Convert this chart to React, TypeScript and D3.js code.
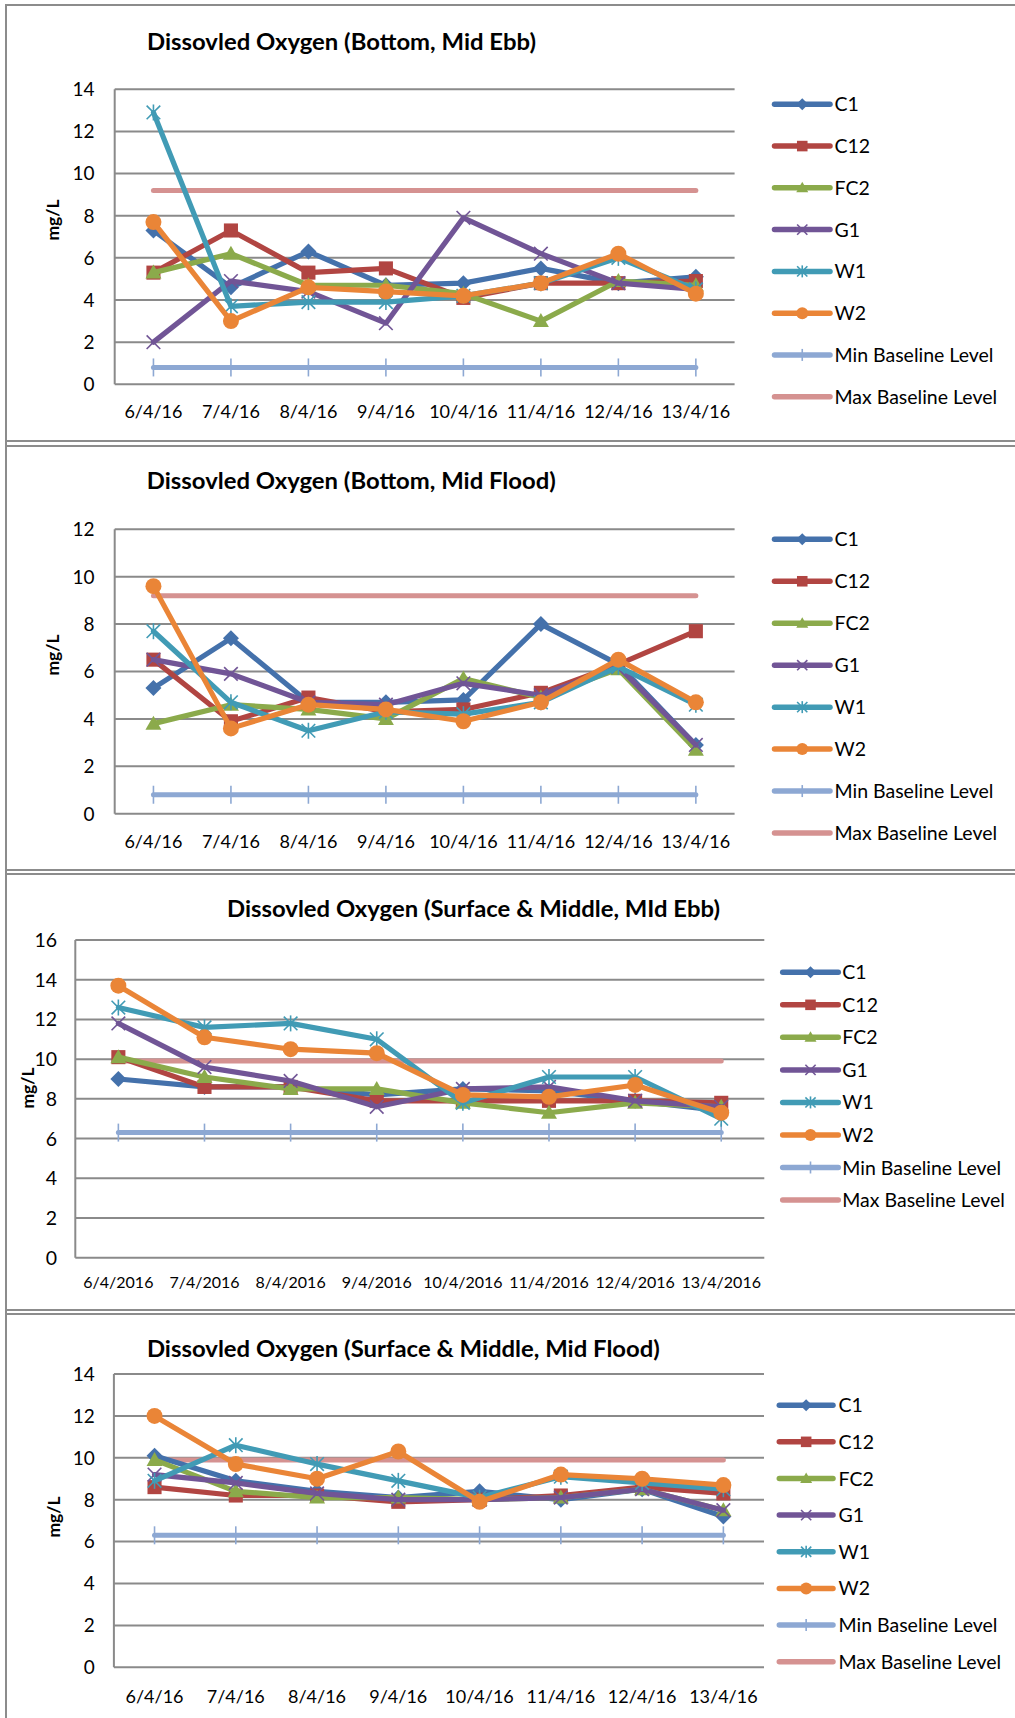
import React from "react";
import * as d3 from "d3";

// ---------- data ----------
const dates16 = ["6/4/16", "7/4/16", "8/4/16", "9/4/16", "10/4/16", "11/4/16", "12/4/16", "13/4/16"];
const dates2016 = ["6/4/2016", "7/4/2016", "8/4/2016", "9/4/2016", "10/4/2016", "11/4/2016", "12/4/2016", "13/4/2016"];
const seriesNames = ["C1", "C12", "FC2", "G1", "W1", "W2"];
const baselineNames = ["Min Baseline Level", "Max Baseline Level"];

// Chart 1: Bottom, Mid Ebb
const botEbbC1 = [7.3, 4.6, 6.3, 4.7, 4.8, 5.5, 4.8, 5.1];
const botEbbC12 = [5.3, 7.3, 5.3, 5.5, 4.1, 4.8, 4.8, 4.9];
const botEbbFC2 = [5.3, 6.2, 4.7, 4.7, 4.3, 3.0, 4.9, 4.7];
const botEbbG1 = [2.0, 4.9, 4.4, 2.9, 7.9, 6.2, 4.8, 4.5];
const botEbbW1 = [12.9, 3.7, 3.9, 3.9, 4.2, 4.8, 6.0, 4.5];
const botEbbW2 = [7.7, 3.0, 4.6, 4.4, 4.2, 4.8, 6.2, 4.3];
const botEbbBase = [0.8, 9.2];

// Chart 2: Bottom, Mid Flood
const botFloodC1 = [5.3, 7.4, 4.7, 4.7, 4.8, 8.0, 6.3, 2.9];
const botFloodC12 = [6.5, 3.9, 4.9, 4.3, 4.4, 5.1, 6.3, 7.7];
const botFloodFC2 = [3.8, 4.6, 4.4, 4.0, 5.7, 4.9, 6.1, 2.7];
const botFloodG1 = [6.5, 5.9, 4.7, 4.6, 5.5, 5.0, 6.2, 2.9];
const botFloodW1 = [7.7, 4.7, 3.5, 4.3, 4.2, 4.7, 6.2, 4.6];
const botFloodW2 = [9.6, 3.6, 4.6, 4.4, 3.9, 4.7, 6.5, 4.7];
const botFloodBase = [0.8, 9.2];

// Chart 3: Surface & Middle, Mid Ebb
const surEbbC1 = [9.0, 8.6, 8.6, 8.2, 8.5, 8.4, 7.9, 7.4];
const surEbbC12 = [10.1, 8.6, 8.6, 7.9, 7.9, 7.9, 7.9, 7.8];
const surEbbFC2 = [10.1, 9.1, 8.5, 8.5, 7.8, 7.3, 7.8, 7.6];
const surEbbG1 = [11.8, 9.6, 8.9, 7.6, 8.5, 8.6, 7.9, 7.6];
const surEbbW1 = [12.6, 11.6, 11.8, 11.0, 7.8, 9.1, 9.1, 7.0];
const surEbbW2 = [13.7, 11.1, 10.5, 10.3, 8.2, 8.1, 8.7, 7.3];
const surEbbBase = [6.3, 9.9];

// Chart 4: Surface & Middle, Mid Flood
const surFloodC1 = [10.1, 8.9, 8.4, 8.1, 8.4, 8.0, 8.5, 7.2];
const surFloodC12 = [8.6, 8.2, 8.2, 7.9, 8.0, 8.2, 8.6, 8.3];
const surFloodFC2 = [9.9, 8.4, 8.1, 8.1, 8.0, 8.1, 8.5, 7.5];
const surFloodG1 = [9.2, 8.8, 8.3, 8.0, 8.0, 8.1, 8.5, 7.5];
const surFloodW1 = [8.9, 10.6, 9.7, 8.9, 8.1, 9.1, 8.8, 8.5];
const surFloodW2 = [12.0, 9.7, 9.0, 10.3, 7.9, 9.2, 9.0, 8.7];
const surFloodBase = [6.3, 9.9];

const titles = [
  "Dissovled Oxygen (Bottom, Mid Ebb)",
  "Dissovled Oxygen (Bottom, Mid Flood)",
  "Dissovled Oxygen (Surface & Middle, MId Ebb)",
  "Dissovled Oxygen (Surface & Middle, Mid Flood)",
];

// ---------- styles ----------
const colors = ["#4471AB", "#B14542", "#8BAA4B", "#715596", "#419BB5", "#EA8537"];
const shapes = ["diamond", "square", "triangle", "x", "star", "circle"];
const minColor = "#8DA8D3";
const maxColor = "#D59291";
const gridColor = "#8A8A8A";
const FONT = "Lato, 'Open Sans', sans-serif";

type Layout = {
  titleX: number; titleY: number; titleW: number;
  x0: number; x1: number; yTop: number; yBot: number; yMax: number;
  tickRight: number; tickFont: number; xLabY: number; xFont: number;
  ylabX: number; ylabY: number;
  legLine0: number; legLine1: number; legText: number; legY0: number; legStep: number;
};

const layouts: Layout[] = [
  { titleX: 341.5, titleY: 50, titleW: 389, x0: 114.7, x1: 734.6, yTop: 89.3, yBot: 384.3, yMax: 14,
    tickRight: 94.5, tickFont: 19, xLabY: 418, xFont: 18, ylabX: 53, ylabY: 220,
    legLine0: 774.5, legLine1: 830, legText: 834.5, legY0: 104.3, legStep: 41.77 },
  { titleX: 351.3, titleY: 488.5, titleW: 409, x0: 114.7, x1: 734.6, yTop: 529.3, yBot: 813.7, yMax: 12,
    tickRight: 94.5, tickFont: 19, xLabY: 848, xFont: 18, ylabX: 53, ylabY: 655,
    legLine0: 774.5, legLine1: 830, legText: 834.5, legY0: 539.3, legStep: 41.96 },
  { titleX: 473.5, titleY: 916.7, titleW: 493, x0: 75.3, x1: 764.3, yTop: 940, yBot: 1257.7, yMax: 16,
    tickRight: 57, tickFont: 19.5, xLabY: 1288, xFont: 16, ylabX: 28, ylabY: 1088,
    legLine0: 782.7, legLine1: 838.3, legText: 842.3, legY0: 972.3, legStep: 32.53 },
  { titleX: 403.4, titleY: 1356.5, titleW: 513, x0: 113.9, x1: 764, yTop: 1374, yBot: 1667.3, yMax: 14,
    tickRight: 94.7, tickFont: 19, xLabY: 1702.5, xFont: 18, ylabX: 54, ylabY: 1517,
    legLine0: 779.3, legLine1: 833, legText: 838.5, legY0: 1405.2, legStep: 36.64 },
];

const chartSeries = [
  [botEbbC1, botEbbC12, botEbbFC2, botEbbG1, botEbbW1, botEbbW2],
  [botFloodC1, botFloodC12, botFloodFC2, botFloodG1, botFloodW1, botFloodW2],
  [surEbbC1, surEbbC12, surEbbFC2, surEbbG1, surEbbW1, surEbbW2],
  [surFloodC1, surFloodC12, surFloodFC2, surFloodG1, surFloodW1, surFloodW2],
];
const chartBases = [botEbbBase, botFloodBase, surEbbBase, surFloodBase];
const chartCats = [dates16, dates16, dates2016, dates16];

function Marker({ shape, x, y, color, s = 8 }: { shape: string; x: number; y: number; color: string; s?: number }) {
  const t = `translate(${x},${y})`;
  switch (shape) {
    case "diamond":
      return <path transform={t} d={`M0,${-s}L${s},0L0,${s}L${-s},0Z`} fill={color} />;
    case "square":
      return <rect transform={t} x={-s * 0.88} y={-s * 0.88} width={s * 1.76} height={s * 1.76} fill={color} />;
    case "triangle":
      return <path transform={t} d={`M0,${-s}L${s},${s * 0.75}L${-s},${s * 0.75}Z`} fill={color} />;
    case "x":
      return (
        <g transform={t} stroke={color} strokeWidth={1.6}>
          <line x1={-s * 0.85} y1={-s * 0.85} x2={s * 0.85} y2={s * 0.85} />
          <line x1={-s * 0.85} y1={s * 0.85} x2={s * 0.85} y2={-s * 0.85} />
        </g>
      );
    case "star":
      return (
        <g transform={t} stroke={color} strokeWidth={1.6}>
          <line x1={-s * 0.85} y1={-s * 0.85} x2={s * 0.85} y2={s * 0.85} />
          <line x1={-s * 0.85} y1={s * 0.85} x2={s * 0.85} y2={-s * 0.85} />
          <line x1={0} y1={-s} x2={0} y2={s} />
        </g>
      );
    case "circle":
      return <circle cx={x} cy={y} r={s} fill={color} />;
    case "min":
      return <line x1={x} x2={x} y1={y - s} y2={y + s} stroke={minColor} strokeWidth={1.6} />;
    default:
      return null;
  }
}

function Chart({ idx }: { idx: number }) {
  const L = layouts[idx];
  const cats = chartCats[idx];
  const series = chartSeries[idx];
  const [minV, maxV] = chartBases[idx];
  const xb = d3.scaleBand<string>().domain(cats).range([L.x0, L.x1]).padding(0);
  const xc = (c: string) => (xb(c) as number) + xb.bandwidth() / 2;
  const y = d3.scaleLinear().domain([0, L.yMax]).range([L.yBot, L.yTop]);
  const ticks = d3.range(0, L.yMax + 1, 2);
  const line = d3.line<number>().x((_, i) => xc(cats[i])).y((v) => y(v));
  const minArr = cats.map(() => minV);
  const maxArr = cats.map(() => maxV);

  return (
    <g>
      <text x={L.titleX} y={L.titleY} textAnchor="middle" fontFamily={FONT} fontWeight="bold" fontSize={22}
        textLength={L.titleW} lengthAdjust="spacingAndGlyphs" fill="#000">{titles[idx]}</text>
      {ticks.map((t) => (
        <g key={t}>
          <line x1={L.x0} x2={L.x1} y1={y(t)} y2={y(t)} stroke={gridColor} strokeWidth={2} />
          <text x={L.tickRight} y={y(t)} dy="0.36em" textAnchor="end" fontFamily={FONT} fontSize={L.tickFont} fill="#000">{t}</text>
        </g>
      ))}
      <line x1={L.x0} x2={L.x0} y1={L.yTop} y2={L.yBot} stroke={gridColor} strokeWidth={2} />
      {cats.map((c) => (
        <text key={c} x={xc(c)} y={L.xLabY} textAnchor="middle" fontFamily={FONT} fontSize={L.xFont} fill="#000">{c}</text>
      ))}
      <text transform={`translate(${L.ylabX},${L.ylabY}) rotate(-90)`} textAnchor="middle" dy="0.35em"
        fontFamily={FONT} fontWeight="bold" fontSize={17.5} fill="#000">mg/L</text>

      {/* baselines */}
      <path d={line(maxArr) as string} fill="none" stroke={maxColor} strokeWidth={5} strokeLinecap="round" />
      <path d={line(minArr) as string} fill="none" stroke={minColor} strokeWidth={5} strokeLinecap="round" />
      {cats.map((c) => <Marker key={c} shape="min" x={xc(c)} y={y(minV)} color={minColor} s={9} />)}

      {/* data series */}
      {series.map((vals, si) => (
        <g key={si}>
          <path d={line(vals) as string} fill="none" stroke={colors[si]} strokeWidth={5.2} strokeLinejoin="round" strokeLinecap="round" />
          {vals.map((v, i) => <Marker key={i} shape={shapes[si]} x={xc(cats[i])} y={y(v)} color={colors[si]} s={8} />)}
        </g>
      ))}

      {/* legend */}
      {[...seriesNames, ...baselineNames].map((name, li) => {
        const ly = L.legY0 + li * L.legStep;
        const col = li < 6 ? colors[li] : li === 6 ? minColor : maxColor;
        const mx = (L.legLine0 + L.legLine1) / 2;
        return (
          <g key={name}>
            <line x1={L.legLine0} x2={L.legLine1} y1={ly} y2={ly} stroke={col} strokeWidth={5.5} strokeLinecap="round" />
            {li < 6 && <Marker shape={shapes[li]} x={mx} y={ly} color={col} s={6} />}
            {li === 6 && <Marker shape="min" x={mx} y={ly} color={col} s={6} />}
            <text x={L.legText} y={ly} dy="0.36em" fontFamily={FONT} fontSize={19.5} fill="#000">{name}</text>
          </g>
        );
      })}
    </g>
  );
}

export default function App() {
  const borderYs = [5, 441, 446, 870, 874, 1310, 1314];
  return (
    <svg width={1015} height={1718} style={{ position: "absolute", left: 0, top: 0, background: "#fff" }}>
      <rect x={0} y={0} width={1015} height={1718} fill="#fff" />
      {borderYs.map((by) => (
        <line key={by} x1={6} x2={1015} y1={by} y2={by} stroke="#8C8C8C" strokeWidth={2} />
      ))}
      <line x1={6} x2={6} y1={4} y2={1718} stroke="#8C8C8C" strokeWidth={2} />
      {layouts.map((_, i) => <Chart key={i} idx={i} />)}
    </svg>
  );
}
